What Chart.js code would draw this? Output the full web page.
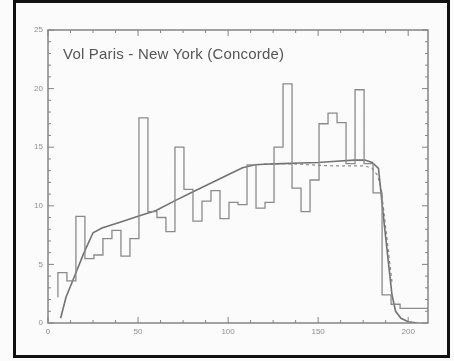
<!DOCTYPE html>
<html>
<head>
<meta charset="utf-8">
<script src="https://cdn.jsdelivr.net/npm/chart.js@4/dist/chart.umd.min.js"></script>
<style>
  html, body { margin: 0; padding: 0; background: #ffffff; }
  #wrap { position: relative; width: 454px; height: 361px; overflow: hidden; }
  #c { position: absolute; left: 0; top: 0; }
  #frame { position: absolute; left: 13px; top: 0; width: 437px; height: 358px;
           border: 3px solid #111; box-sizing: border-box; pointer-events: none; }
  #ttl { position: absolute; left: 63px; top: 45px; white-space: nowrap; letter-spacing: 0.2px;
         font: 15px "Liberation Sans", Arial, sans-serif; color: #555555; }
</style>
</head>
<body>
<div id="wrap">
  <canvas id="c" width="454" height="361"></canvas>
  <div id="frame"></div>
  <div id="ttl">Vol Paris - New York (Concorde)</div>
</div>
<script>
// Histogram: left edge of each 5-unit bin and its height
const binStarts = [5.5, 10.5, 15.5, 20.5, 25.5, 30.5, 35.5, 40.5, 45.5, 50.5,
                   55.5, 60.5, 65.5, 70.5, 75.5, 80.5, 85.5, 90.5, 95.5, 100.5,
                   105.5, 110.5, 115.5, 120.5, 125.5, 130.5, 135.5, 140.5, 145.5, 150.5,
                   155.5, 160.5, 165.5, 170.5, 175.5, 180.5, 185.5, 190.5, 195.5, 200.5];
const binValues = [2.2, 4.3, 3.6, 9.1, 5.5, 5.8, 7.2, 7.9, 5.7, 7.2,
                   17.5, 9.5, 9.0, 7.8, 15.0, 11.4, 8.7, 10.4, 11.3, 8.9,
                   10.3, 10.1, 13.5, 9.8, 10.3, 15.0, 20.4, 11.5, 9.5, 12.2,
                   17.0, 17.9, 17.1, 13.6, 19.9, 13.6, 11.1, 2.4, 1.6, 1.25];
const histEnd = 211;

// Smooth profile (solid)
const profileX = [7, 10, 15, 20, 25, 30, 40, 50, 60, 70, 80, 90, 100, 108, 115, 120,
                  130, 140, 150, 160, 170, 176, 180, 183.5, 187, 191, 193, 196, 200, 205];
const profileY = [0.4, 2.2, 4.1, 6.0, 7.7, 8.1, 8.6, 9.1, 9.6, 10.4, 11.15, 11.9, 12.65, 13.25, 13.5, 13.55,
                  13.6, 13.65, 13.7, 13.8, 13.9, 13.9, 13.7, 13.2, 8.0, 2.4, 1.0, 0.4, 0.1, 0];

// Alternative profile (dashed)
const altX = [120, 130, 140, 150, 160, 170, 176, 180, 183, 185, 188, 191];
const altY = [13.55, 13.6, 13.55, 13.45, 13.4, 13.4, 13.4, 13.2, 12.6, 11.5, 7.5, 3.5];

// Axis labels
const xTickValues = [0, 50, 100, 150, 200];
const yTickValues = [0, 5, 10, 15, 20, 25];
const xMinorStep = 12.5;
const yMinorStep = 1;

const histPoints = binStarts.map((x, i) => ({ x: x, y: binValues[i] }));
histPoints.push({ x: histEnd, y: binValues[binValues.length - 1] });
const profilePoints = profileX.map((x, i) => ({ x: x, y: profileY[i] }));
const altPoints = altX.map((x, i) => ({ x: x, y: altY[i] }));

// Box frame with inward major/minor ticks on all four sides
const boxTicks = {
  id: 'boxTicks',
  beforeDraw(chart) {
    const ctx = chart.ctx;
    ctx.save();
    ctx.fillStyle = '#fbfbfc';
    ctx.fillRect(0, 0, chart.width, chart.height);
    ctx.restore();
  },
  afterDatasetsDraw(chart) {
    const { ctx, chartArea: a, scales: { x, y } } = chart;
    ctx.save();
    ctx.strokeStyle = '#858585';
    ctx.lineWidth = 1.5;
    ctx.strokeRect(a.left, a.top, a.right - a.left, a.bottom - a.top);
    ctx.lineWidth = 1;
    ctx.beginPath();
    for (let v = x.min; v <= x.max + 1e-6; v += xMinorStep) {
      const px = x.getPixelForValue(v);
      const len = (Math.abs(v % 50) < 1e-6) ? 6 : 3;
      ctx.moveTo(px, a.bottom); ctx.lineTo(px, a.bottom - len);
      ctx.moveTo(px, a.top); ctx.lineTo(px, a.top + len);
    }
    for (let v = y.min; v <= y.max + 1e-6; v += yMinorStep) {
      const py = y.getPixelForValue(v);
      const len = (Math.abs(v % 5) < 1e-6) ? 6 : 3;
      ctx.moveTo(a.left, py); ctx.lineTo(a.left + len, py);
      ctx.moveTo(a.right, py); ctx.lineTo(a.right - len, py);
    }
    ctx.stroke();
    ctx.restore();
  }
};

new Chart(document.getElementById('c'), {
  type: 'line',
  data: {
    datasets: [
      { data: histPoints, stepped: 'after', borderColor: '#8a8a8a', borderWidth: 1.3,
        pointRadius: 0, fill: false },
      { data: profilePoints, borderColor: '#727272', borderWidth: 1.6,
        pointRadius: 0, fill: false, tension: 0 },
      { data: altPoints, borderColor: '#8c8c8c', borderWidth: 1.2, borderDash: [3, 3],
        pointRadius: 0, fill: false, tension: 0 }
    ]
  },
  options: {
    responsive: false,
    animation: false,
    layout: { padding: { left: 0, top: 30, right: 26, bottom: 0 } },
    plugins: { legend: { display: false }, tooltip: { enabled: false }, title: { display: false } },
    scales: {
      x: {
        type: 'linear', min: 0, max: 211,
        grid: { display: false, drawTicks: false },
        border: { display: false },
        afterBuildTicks: (s) => { s.ticks = xTickValues.map(v => ({ value: v })); },
        afterFit: (s) => { s.height = 38; },
        ticks: { padding: 4, color: '#909090', maxRotation: 0,
                 font: { family: 'Liberation Sans', size: 8 } }
      },
      y: {
        type: 'linear', min: 0, max: 25,
        grid: { display: false, drawTicks: false },
        border: { display: false },
        afterBuildTicks: (s) => { s.ticks = yTickValues.map(v => ({ value: v })); },
        afterFit: (s) => { s.width = 48; },
        ticks: { padding: 5, color: '#909090',
                 font: { family: 'Liberation Sans', size: 8 } }
      }
    }
  },
  plugins: [boxTicks]
});
</script>
</body>
</html>
